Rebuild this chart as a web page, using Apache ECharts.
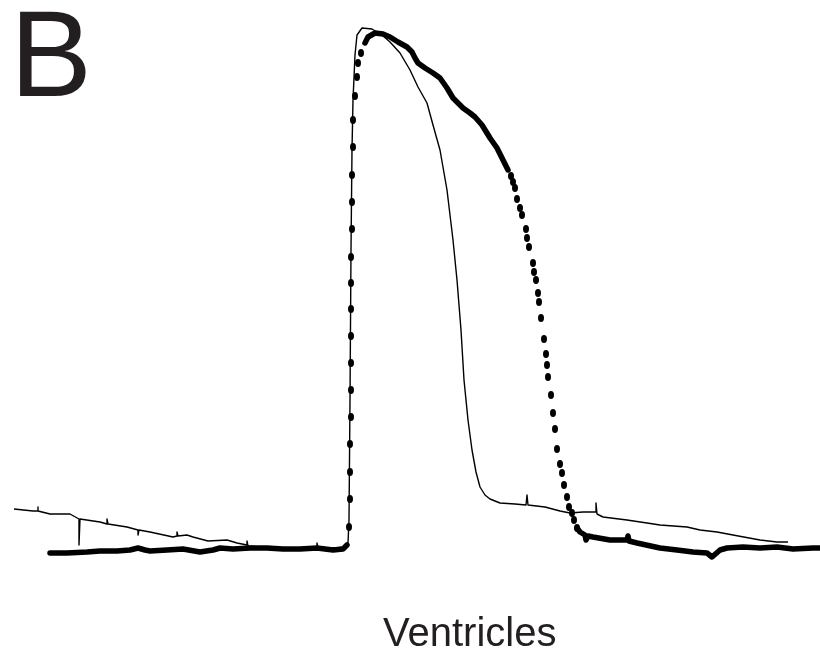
<!DOCTYPE html>
<html>
<head>
<meta charset="utf-8">
<title>Ventricles</title>
<script src="https://cdn.jsdelivr.net/npm/echarts@6/dist/echarts.min.js"></script>
<style>
  html, body { margin: 0; padding: 0; background: #fff; }
  #chart { width: 820px; height: 656px; }
</style>
</head>
<body>
<div id="chart"></div>
<script>
// Ventricular action potentials: [time, potential] samples (arbitrary units)

// Control recording (thin continuous trace)
const controlTrace = [
  [4,51],[23,49],[28,49],[28,53],[28,49],[40,46],[47,46],[60,46],[69,41],[69,15],[70,41],
  [90,38],[97,36],[97,41],[98,36],[117,33],[128,30],[128,25],[129,30],[140,28],[163,23],
  [167,24],[167,28],[168,24],[177,25],[183,23],[198,19],[217,20],[227,17],[237,15],[237,19],
  [238,14],[250,13],[270,12],[290,12],[307,12],[307,17],[308,12],[325,12],[335,13],[338,17],
  [339,40],[340,160],[341,310],[342,410],[343,460],[345,505],[347,525],[352,532],[362,531],
  [372,525],[380,518],[390,507],[400,490],[408,473],[417,457],[423,435],[430,410],[437,370],
  [443,320],[447,280],[451,230],[454,180],[458,140],[462,110],[466,88],[470,73],[475,65],
  [480,61],[490,57],[505,56],[516,55],[517,65],[518,55],[535,53],[550,49],[560,47],[573,48],
  [586,48],[586,57],[587,46],[593,43],[617,40],[637,37],[650,35],[677,33],[690,30],[707,28],
  [723,25],[750,20],[767,18],[778,18]
];

// Second recording: densely sampled stretches (resting level before the beat)
const testRest = [
  [40,7],[57,7],[77,8],[90,9],[107,9],[120,10],[128,12],[135,10],[140,9],[157,10],[173,11],
  [190,8],[203,10],[210,12],[223,11],[240,12],[257,12],[273,11],[290,11],[307,12],[323,10],
  [333,11],[337,15]
];

// Second recording: plateau
const testPlateau = [
  [355,517],[358,523],[365,527],[373,526],[380,523],[388,518],[397,513],[402,508],[405,502],
  [408,497],[415,492],[423,487],[430,482],[437,472],[443,462],[453,452],[460,447],[465,443],
  [472,435],[480,422],[487,412],[493,400],[498,390]
];

// Second recording: resting level after repolarisation
const testRecovery = [
  [567,32],[570,28],[575,25],[576,20],[578,24],[583,23],[600,20],[617,20],[618,24],[619,19],
  [627,17],[650,12],[667,10],[683,8],[697,7],[702,3],[710,10],[717,12],[733,13],[750,12],
  [767,13],[783,11],[803,12],[810,12]
];

// Second recording: individual samples on the fast upstroke
const testUpstroke = [
  [339,33],[340,61],[340,88],[340,116],[341,143],[341,170],[341,197],[341,224],[341,251],
  [341,277],[341,303],[342,331],[342,358],[342,385],[343,413],[343,440],[345,464],[347,483],
  [348,497],[351,507]
];

// Second recording: individual samples during repolarisation
const testRepol = [
  [501,384],[503,378],[505,372],[507,361],[510,352],[512,345],[516,331],[517,322],[519,313],
  [523,297],[524,288],[526,280],[528,267],[529,258],[531,242],[534,221],[536,206],[537,195],
  [538,183],[541,165],[543,147],[545,131],[547,111],[550,96],[552,87],[554,75],[557,63],
  [559,53],[562,47],[564,40],[567,32]
];

const panelLetter = 'B';
const panelTitle = 'Ventricles';

const ink = '#000';
const textInk = '#231f20';
const fontFamily = '"Liberation Sans", Arial, sans-serif';

const chart = echarts.init(document.getElementById('chart'), null, { renderer: 'canvas' });

function denseLine(name, data) {
  return {
    name, type: 'line', data, showSymbol: false, smooth: false, silent: true,
    lineStyle: { color: ink, width: 5.5, cap: 'round', join: 'round', opacity: 1 },
    z: 3
  };
}

function samples(name, data) {
  return {
    name, type: 'scatter', data, symbol: 'circle', symbolSize: [6, 8], silent: true,
    itemStyle: { color: ink, opacity: 1 }, z: 4
  };
}

chart.setOption({
  animation: false,
  backgroundColor: '#fff',
  grid: { left: 0, right: 0, top: 0, bottom: 0 },
  xAxis: { type: 'value', min: -10, max: 810, show: false },
  yAxis: { type: 'value', min: -96, max: 560, show: false },
  graphic: [
    {
      type: 'text', left: 10, top: 1,
      style: { text: panelLetter, font: '123px ' + fontFamily, fill: textInk }
    },
    {
      type: 'text', left: 383, top: 615,
      style: { text: panelTitle, font: '40px ' + fontFamily, fill: textInk }
    }
  ],
  series: [
    {
      name: 'control', type: 'line', data: controlTrace, showSymbol: false, silent: true,
      lineStyle: { color: ink, width: 1.4, join: 'round' }, z: 5
    },
    denseLine('rest', testRest),
    denseLine('plateau', testPlateau),
    denseLine('recovery', testRecovery),
    samples('upstroke', testUpstroke),
    samples('repolarisation', testRepol)
  ]
});
</script>
</body>
</html>
